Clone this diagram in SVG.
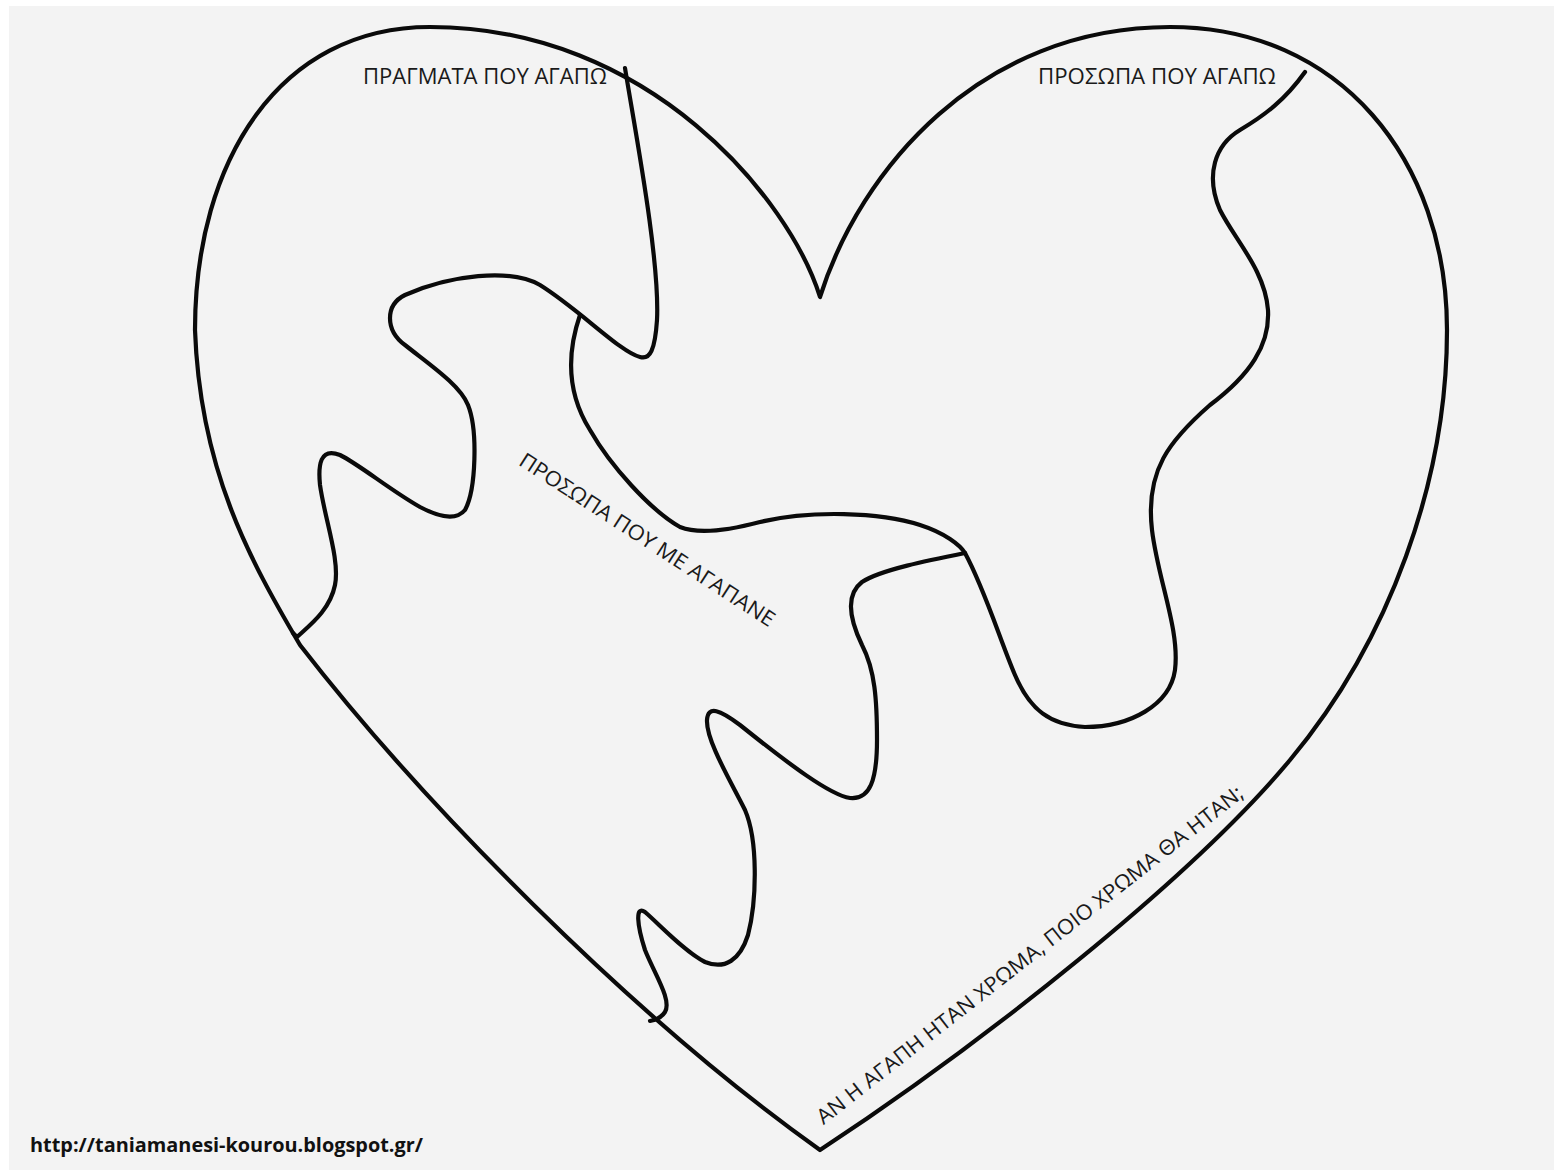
<svg xmlns="http://www.w3.org/2000/svg" width="1554" height="1170" viewBox="0 0 1554 1170">
<style>
.ln{fill:none;stroke:#0a0a0a;stroke-width:4.2;stroke-linecap:round;stroke-linejoin:round}
.lbl{font-family:"Open Sans","Noto Sans","DejaVu Sans",sans-serif;font-size:21px;fill:#1a1a1a}
.url{font-family:"Open Sans","Noto Sans","DejaVu Sans",sans-serif;font-size:20px;font-weight:bold;fill:#111}
</style>
<rect x="0" y="0" width="1554" height="1170" fill="#ffffff"/>
<rect x="9" y="6" width="1545" height="1164" fill="#f3f3f3"/>
<g id="heart">
<path class="ln" d="M 820 297 C 790 200, 650 27, 430 27 C 280 27, 195 160, 195 330 C 200 470, 250 560, 300 645 C 420 800, 630 1015, 820 1150 C 980 1045, 1190 880, 1290 760 C 1390 640, 1447 480, 1447 330 C 1447 160, 1340 27, 1170 27 C 980 27, 860 170, 820 297 Z"/>
</g>
<g id="piece-lines">
<path id="line-a" class="ln" d="M 625 68 C 635 130, 660 260, 657 320 C 655 350, 650 360, 640 357 C 620 352, 580 310, 540 285 C 510 268, 450 275, 405 295 C 385 305, 385 330, 405 345 C 430 365, 460 385, 468 405 C 478 430, 476 490, 465 510 C 455 522, 435 515, 420 507 C 390 490, 360 465, 340 455 C 320 447, 318 465, 320 485 C 325 520, 340 560, 335 585 C 330 610, 310 625, 297 637 L 293 633"/>
<path id="line-b" class="ln" d="M 580 315 C 568 350, 565 390, 590 430 C 610 465, 650 510, 680 527 C 700 535, 730 530, 760 522 C 810 510, 880 512, 920 525 C 945 533, 960 545, 965 553 C 985 590, 1000 640, 1015 675 C 1030 710, 1050 725, 1085 727 C 1130 727, 1170 705, 1175 670 C 1180 630, 1158 580, 1152 530 C 1145 470, 1170 440, 1210 405 C 1250 375, 1270 345, 1268 310 C 1265 270, 1235 240, 1220 210 C 1205 175, 1215 145, 1240 130 C 1265 115, 1285 100, 1305 72"/>
<path id="line-c" class="ln" d="M 965 553 C 930 560, 880 570, 862 582 C 845 595, 850 620, 862 645 C 875 670, 877 700, 877 740 C 877 780, 870 800, 850 798 C 830 795, 790 765, 740 725 C 720 710, 708 705, 707 720 C 706 740, 730 780, 745 810 C 758 840, 757 900, 748 935 C 740 960, 725 970, 705 962 C 685 952, 660 925, 645 912 C 635 905, 637 925, 645 950 C 655 975, 672 1000, 665 1012 C 661 1018, 656 1020, 650 1021"/>
</g>
<g id="labels">
<text id="t-things" class="lbl" x="363" y="84" textLength="244" lengthAdjust="spacingAndGlyphs">ΠΡΑΓΜΑΤΑ ΠΟΥ ΑΓΑΠΩ</text>
<text id="t-people" class="lbl" x="1038" y="84" textLength="238" lengthAdjust="spacingAndGlyphs">ΠΡΟΣΩΠΑ ΠΟΥ ΑΓΑΠΩ</text>
<text id="t-loved" class="lbl" transform="translate(647,540) rotate(33)" x="0" y="7" text-anchor="middle" textLength="300" lengthAdjust="spacingAndGlyphs">ΠΡΟΣΩΠΑ ΠΟΥ ΜΕ ΑΓΑΠΑΝΕ</text>
<text id="t-colour" class="lbl" transform="translate(1030,955) rotate(-38)" x="0" y="7" text-anchor="middle" textLength="535" lengthAdjust="spacingAndGlyphs">ΑΝ Η ΑΓΑΠΗ ΗΤΑΝ ΧΡΩΜΑ, ΠΟΙΟ ΧΡΩΜΑ ΘΑ ΗΤΑΝ;</text>
<text id="t-url" class="url" x="30" y="1152" textLength="393" lengthAdjust="spacingAndGlyphs">http://taniamanesi-kourou.blogspot.gr/</text>
</g>
</svg>
